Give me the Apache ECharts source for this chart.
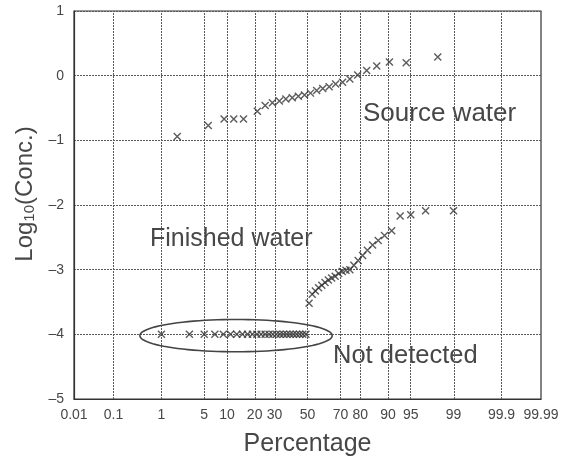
<!DOCTYPE html>
<html>
<head>
<meta charset="utf-8">
<script src="https://cdn.jsdelivr.net/npm/echarts@6/dist/echarts.min.js"></script>
<style>html,body{margin:0;padding:0;background:#fff;}#c{width:567px;height:468px;}</style>
</head>
<body>
<div id="c"></div>
<script>
// ---- data (percentages on probability scale, log10 concentrations) ----
const tickPct = [0.01, 0.1, 1, 5, 10, 20, 30, 50, 70, 80, 90, 95, 99, 99.9, 99.99];
const tickLabels = ['0.01', '0.1', '1', '5', '10', '20', '30', '50', '70', '80', '90', '95', '99', '99.9', '99.99'];
const yTicks = [-5, -4, -3, -2, -1, 0, 1];

const sourcePct = [1.9, 5.7, 9.2, 12, 15.4, 21.2, 25, 28.8, 32.7, 36.5, 40.4, 44.2, 48.1, 51.9, 55.8, 59.6, 63.5, 67.3, 71.2, 75, 78.8, 82.7, 86.5, 90.4, 94.2, 98.1];
const sourceLog = [-0.94, -0.77, -0.67, -0.67, -0.67, -0.55, -0.46, -0.42, -0.39, -0.36, -0.34, -0.32, -0.30, -0.27, -0.23, -0.20, -0.17, -0.13, -0.10, -0.05, 0.01, 0.08, 0.15, 0.21, 0.20, 0.29];

const notDetPct = [1, 3, 5, 7, 9, 11, 13, 15, 17, 19, 21, 23, 25, 27, 29, 31, 33, 35, 37, 39, 41, 43, 45, 47, 49];
const notDetLog = [-4, -4, -4, -4, -4, -4, -4, -4, -4, -4, -4, -4, -4, -4, -4, -4, -4, -4, -4, -4, -4, -4, -4, -4, -4];

const finishedPct = [51, 53, 55, 57, 59, 61, 63, 65, 67, 69, 71, 73, 75, 77, 79, 81, 83, 85, 87, 89, 91, 93, 95, 97, 99];
const finishedLog = [-3.52, -3.38, -3.33, -3.28, -3.24, -3.20, -3.16, -3.13, -3.10, -3.06, -3.03, -3.01, -3.00, -2.93, -2.86, -2.78, -2.70, -2.62, -2.55, -2.47, -2.40, -2.17, -2.15, -2.09, -2.09];

// ellipse around not-detected values: [left %, right %, top log, bottom log]
const ellipseBox = [0.38, 65.3, -3.77, -4.27];

// ---- probability-scale transform (inverse normal CDF) ----
function probit(pct) {
  const p = pct / 100;
  const a = [-39.69683028665376, 220.9460984245205, -275.9285104469687, 138.3577518672690, -30.66479806614716, 2.506628277459239];
  const b = [-54.47609879822406, 161.5858368580409, -155.6989798598866, 66.80131188771972, -13.28068155211027];
  const c = [-0.007784894002430293, -0.3223964580411365, -2.400758277161838, -2.549732539343734, 4.374664141464968, 2.938163982698783];
  const d = [0.007784695709041462, 0.3224671290700398, 2.445134137142996, 3.754408661907416];
  const pl = 0.02425, ph = 1 - pl;
  let q, r;
  if (p < pl) {
    q = Math.sqrt(-2 * Math.log(p));
    return (((((c[0]*q+c[1])*q+c[2])*q+c[3])*q+c[4])*q+c[5]) / ((((d[0]*q+d[1])*q+d[2])*q+d[3])*q+1);
  }
  if (p <= ph) {
    q = p - 0.5; r = q * q;
    return (((((a[0]*r+a[1])*r+a[2])*r+a[3])*r+a[4])*r+a[5])*q / (((((b[0]*r+b[1])*r+b[2])*r+b[3])*r+b[4])*r+1);
  }
  q = Math.sqrt(-2 * Math.log(1 - p));
  return -(((((c[0]*q+c[1])*q+c[2])*q+c[3])*q+c[4])*q+c[5]) / ((((d[0]*q+d[1])*q+d[2])*q+d[3])*q+1);
}

const tickZ = tickPct.map(probit);
function pairs(px, ys) { return px.map((p, i) => [probit(p), ys[i]]); }

const markColor = '#333';
const textColor = '#474747';
const gridColor = '#5a5a5a';
const crossSymbol = 'path://M0 0L10 10M10 0L0 10';
const crossStyle = { color: 'rgba(0,0,0,0)', borderColor: markColor, borderWidth: 1.4 };

const chart = echarts.init(document.getElementById('c'), null, { renderer: 'canvas' });
const option = {
  backgroundColor: '#fff',
  animation: false,
  grid: { left: 74, right: 26, top: 11, bottom: 69, outerBoundsMode: 'none', containLabel: false, show: true, borderColor: '#333', borderWidth: 1.2, backgroundColor: 'transparent' },
  xAxis: {
    type: 'value',
    min: probit(0.01), max: probit(99.99),
    name: 'Percentage',
    nameLocation: 'middle',
    nameGap: 33,
    nameTextStyle: { fontFamily: 'Liberation Sans', fontSize: 25, color: textColor },
    axisLine: { show: true, onZero: false, lineStyle: { color: '#333', width: 1.2 } },
    axisTick: { show: false },
    splitLine: { show: false },
    axisLabel: {
      customValues: tickZ,
      margin: 9,
      fontFamily: 'Liberation Sans', fontSize: 14, color: textColor,
      formatter: function (v) {
        let best = 0, bd = Infinity;
        tickZ.forEach((z, i) => { const dd = Math.abs(z - v); if (dd < bd) { bd = dd; best = i; } });
        return tickLabels[best];
      }
    }
  },
  yAxis: {
    type: 'value',
    min: -5, max: 1, interval: 1,
    name: '{p|Log}{b|10}{a|(Conc.)}',
    nameLocation: 'middle',
    nameGap: 30,
    nameRotate: 90,
    nameTextStyle: {
      rich: {
        p: { fontFamily: 'Liberation Sans', fontSize: 24, color: textColor, padding: [0, 0, 0, 22] },
        a: { fontFamily: 'Liberation Sans', fontSize: 24, color: textColor },
        b: { fontFamily: 'Liberation Sans', fontSize: 15, color: textColor, verticalAlign: 'bottom', padding: [10, 0, 0, 0] }
      }
    },
    axisLine: { show: true, onZero: false, lineStyle: { color: '#333', width: 1.2 } },
    axisTick: { show: false },
    splitLine: { show: true, lineStyle: { color: gridColor, type: [2, 1], width: 1 } },
    axisLabel: {
      margin: 10,
      fontFamily: 'Liberation Sans', fontSize: 14, color: textColor,
      formatter: v => (v < 0 ? '\u2013' + Math.abs(v) : String(v))
    }
  },
  series: [
    {
      name: 'grid', type: 'line', data: [], silent: true,
      markLine: {
        silent: true, symbol: 'none', animation: false,
        label: { show: false },
        lineStyle: { color: gridColor, type: [2, 1], width: 1 },
        data: tickZ.slice(1, -1).map(z => ({ xAxis: z }))
      }
    },
    {
      name: 'Source water', type: 'scatter', symbol: crossSymbol, symbolSize: 7,
      itemStyle: crossStyle, data: pairs(sourcePct, sourceLog), z: 5
    },
    {
      name: 'Not detected', type: 'scatter', symbol: crossSymbol, symbolSize: 7,
      itemStyle: crossStyle, data: pairs(notDetPct, notDetLog), z: 5
    },
    {
      name: 'Finished water', type: 'scatter', symbol: crossSymbol, symbolSize: 7,
      itemStyle: crossStyle, data: pairs(finishedPct, finishedLog), z: 5
    },
    {
      name: 'ellipse', type: 'custom', silent: true, z: 6,
      data: [[probit(ellipseBox[0]), ellipseBox[2], probit(ellipseBox[1]), ellipseBox[3]]],
      encode: { x: [0, 2], y: [1, 3] },
      renderItem: function (params, api) {
        const p1 = api.coord([api.value(0), api.value(1)]);
        const p2 = api.coord([api.value(2), api.value(3)]);
        const cx = (p1[0] + p2[0]) / 2, cy = (p1[1] + p2[1]) / 2;
        const rx = Math.abs(p2[0] - p1[0]) / 2, ry = Math.abs(p2[1] - p1[1]) / 2;
        const pts = [];
        for (let k = 0; k < 96; k++) {
          const t = k / 96 * Math.PI * 2;
          pts.push([cx + rx * Math.cos(t), cy + ry * Math.sin(t)]);
        }
        return { type: 'polygon', shape: { points: pts }, style: { fill: 'none', stroke: '#444', lineWidth: 1.6 } };
      }
    }
  ],
  graphic: [
    { type: 'text', left: 363, top: 101, style: { text: 'Source water', fontFamily: 'Liberation Sans', fontSize: 26, fill: textColor } },
    { type: 'text', left: 150, top: 227, style: { text: 'Finished water', fontFamily: 'Liberation Sans', fontSize: 25, fill: textColor } },
    { type: 'text', left: 333, top: 343, style: { text: 'Not detected', fontFamily: 'Liberation Sans', fontSize: 25.5, fill: textColor } }
  ]
};
chart.setOption(option);
</script>
</body>
</html>
